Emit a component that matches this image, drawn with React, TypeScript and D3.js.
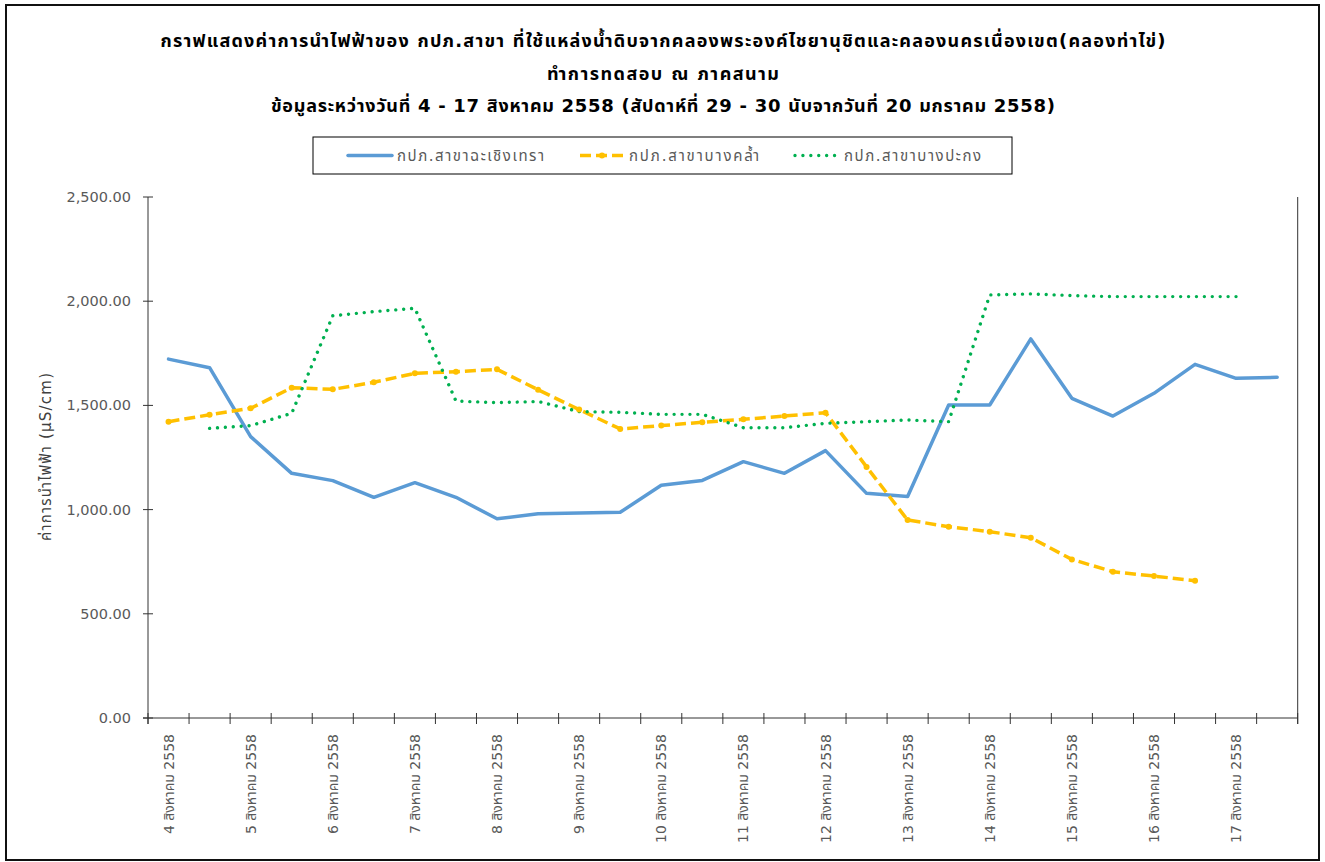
import React from "react";
import * as d3 from "d3";

const days = [4, 5, 6, 7, 8, 9, 10, 11, 12, 13, 14, 15, 16, 17];
const categories: string[] = [];
days.forEach((d) => {
  categories.push(`${d} สิงหาคม 2558`);
  categories.push(`${d} สิงหาคม 2558 (2)`);
});

const chachoengsao: (number | null)[] = [
  1722, 1681, 1350, 1174, 1139, 1059, 1129, 1059, 956, 980, 984, 987, 1117, 1140,
  1230, 1174, 1283, 1078, 1063, 1502, 1502, 1819, 1534, 1449, 1558, 1697, 1630, 1635,
];
const bangKhla: (number | null)[] = [
  1422, 1455, 1486, 1585, 1577, 1611, 1654, 1662, 1673, 1575, 1480, 1387, 1403, 1419,
  1433, 1449, 1465, 1205, 950, 918, 894, 865, 761, 702, 681, 659, null, null,
];
const bangPakong: (number | null)[] = [
  null, 1390, 1403, 1462, 1930, 1950, 1966, 1521, 1513, 1519, 1470, 1467, 1457, 1457,
  1393, 1393, 1414, 1422, 1430, 1422, 2030, 2035, 2027, 2022, 2022, 2022, 2022, null,
];

const seriesNames = ["กปภ.สาขาฉะเชิงเทรา", "กปภ.สาขาบางคล้ำ", "กปภ.สาขาบางปะกง"];
const yTicks = [0, 500, 1000, 1500, 2000, 2500];
const titleLines = [
  "กราฟแสดงค่าการนำไฟฟ้าของ  กปภ.สาขา ที่ใช้แหล่งน้ำดิบจากคลองพระองค์ไชยานุชิตและคลองนครเนื่องเขต(คลองท่าไข่)",
  "ทำการทดสอบ  ณ ภาคสนาม",
  "ข้อมูลระหว่างวันที่ 4 - 17 สิงหาคม 2558 (สัปดาห์ที่ 29 - 30 นับจากวันที่  20 มกราคม 2558)",
];
const yTitle = "ค่าการนำไฟฟ้า (µS/cm)";

const FONT = "'DejaVu Sans', Tahoma, 'Noto Sans Thai', sans-serif";

export default function App() {
  const left = 148, right = 1297.7, top = 197, bottom = 718;
  const x = d3.scaleBand<number>().domain(d3.range(categories.length)).range([left, right]).padding(0);
  const bw = x.bandwidth();
  const cx = (i: number) => (x(i) as number) + bw / 2;
  const y = d3.scaleLinear().domain([0, 2500]).range([bottom, top]);
  const fmt = d3.format(",.2f");

  const line = d3
    .line<number | null>()
    .defined((d) => d !== null)
    .x((_, i) => cx(i))
    .y((d) => y(d as number));

  const series = [
    { name: seriesNames[0], data: chachoengsao, color: "#5B9BD5", dash: "none", width: 3.5, cap: "round" },
    { name: seriesNames[1], data: bangKhla, color: "#FFC000", dash: "11 5", width: 3.5, cap: "butt" },
    { name: seriesNames[2], data: bangPakong, color: "#00B050", dash: "0.01 7.9", width: 3.4, cap: "round" },
  ];

  const gray = "#595959";
  const legendX = [348, 580, 795];
  const legendTextLen = [147, 130, 137];
  const titleLen = [1005, 232, 784];

  return (
    <svg width={1325} height={862} style={{ position: "absolute", left: 0, top: 0, background: "#fff" }} fontFamily={FONT}>
      <rect x={0} y={0} width={1325} height={862} fill="#fff" />
      <rect x={6} y={5} width={1313} height={855} fill="#fff" stroke="#111" strokeWidth={2} />

      {titleLines.map((t, i) => (
        <text
          key={i}
          x={663 - titleLen[i] / 2}
          y={47 + i * 32.5}
          fontSize={18}
          fontWeight="bold"
          fill="#000"
          textLength={titleLen[i]}
          lengthAdjust="spacing"
        >
          {t}
        </text>
      ))}

      {/* legend */}
      <rect x={313} y={137} width={699} height={37} fill="#fff" stroke="#000" strokeWidth={1} />
      {series.map((s, i) => {
        const lx = legendX[i];
        return (
          <g key={i}>
            <line x1={lx} x2={lx + 44} y1={155.5} y2={155.5} stroke={s.color} strokeWidth={s.width} strokeDasharray={s.dash} strokeLinecap={s.cap as any} />
            {i === 1 && <circle cx={lx + 22} cy={155.5} r={3} fill={s.color} />}
            <text x={lx + 49} y={161} fontSize={15} fill={gray} textLength={legendTextLen[i]} lengthAdjust="spacing">
              {s.name}
            </text>
          </g>
        );
      })}

      {/* axes */}
      <line x1={left} x2={left} y1={top} y2={bottom + 6} stroke="#333" strokeWidth={1} />
      <line x1={right} x2={right} y1={top} y2={bottom + 6} stroke="#333" strokeWidth={1} />
      <line x1={left - 5} x2={right} y1={bottom} y2={bottom} stroke="#333" strokeWidth={1} />
      {yTicks.map((t) => (
        <g key={t}>
          <line x1={left - 5} x2={left + 5} y1={y(t)} y2={y(t)} stroke="#333" />
          <text x={131} y={y(t) + 5} textAnchor="end" fontSize={14.5} fill={gray}>
            {fmt(t)}
          </text>
        </g>
      ))}
      {d3.range(categories.length + 1).map((k) => {
        const xx = left + k * bw;
        return <line key={k} x1={xx} x2={xx} y1={bottom - 5} y2={bottom + 6} stroke="#333" />;
      })}
      {categories.map((c, i) =>
        i % 2 === 0 ? (
          <text key={i} transform={`translate(${cx(i) + 5},734) rotate(-90)`} textAnchor="end" fontSize={14} fill={gray}>
            {c}
          </text>
        ) : null
      )}
      <text
        transform={`translate(51,541) rotate(-90)`}
        fontSize={15}
        fill="#404040"
        textLength={168}
        lengthAdjust="spacing"
      >
        {yTitle}
      </text>

      {/* series */}
      {series.map((s, i) => (
        <path
          key={i}
          d={line(s.data) || ""}
          fill="none"
          stroke={s.color}
          strokeWidth={s.width}
          strokeDasharray={s.dash}
          strokeLinecap={s.cap as any}
          strokeLinejoin="round"
        />
      ))}
      {bangKhla.map((v, i) =>
        v === null ? null : <circle key={i} cx={cx(i)} cy={y(v)} r={3} fill="#FFC000" />
      )}
    </svg>
  );
}
